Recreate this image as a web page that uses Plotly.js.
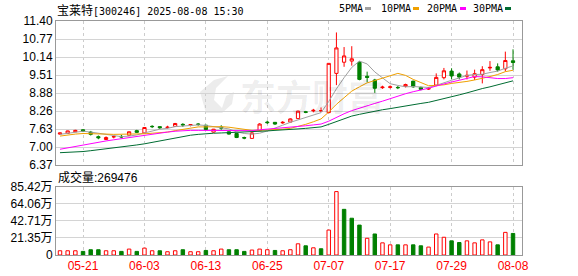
<!DOCTYPE html>
<html><head><meta charset="utf-8">
<script src="https://cdn.plot.ly/plotly-3.0.1.min.js"></script>
<style>html,body{margin:0;padding:0;background:#fff}#chart{width:578px;height:276px}</style>
</head><body><div id="chart"></div>
<script>
const dates = ['2025-05-16','2025-05-19','2025-05-20','2025-05-21','2025-05-22','2025-05-23','2025-05-26','2025-05-27','2025-05-28','2025-05-29',
'2025-05-30','2025-06-03','2025-06-04','2025-06-05','2025-06-06','2025-06-09','2025-06-10','2025-06-11','2025-06-12','2025-06-13',
'2025-06-16','2025-06-17','2025-06-18','2025-06-19','2025-06-20','2025-06-23','2025-06-24','2025-06-25','2025-06-26','2025-06-27',
'2025-06-30','2025-07-01','2025-07-02','2025-07-03','2025-07-04','2025-07-07','2025-07-08','2025-07-09','2025-07-10','2025-07-11',
'2025-07-14','2025-07-15','2025-07-16','2025-07-17','2025-07-18','2025-07-21','2025-07-22','2025-07-23','2025-07-24','2025-07-25',
'2025-07-28','2025-07-29','2025-07-30','2025-07-31','2025-08-01','2025-08-04','2025-08-05','2025-08-06','2025-08-07','2025-08-08'];

const open = [7.45,7.47,7.53,7.60,7.52,7.36,7.26,7.35,7.37,7.41,
7.57,7.49,7.72,7.71,7.68,7.72,7.79,7.76,7.80,7.76,
7.52,7.69,7.53,7.47,7.33,7.30,7.57,7.87,7.86,7.84,
7.87,7.99,8.23,8.26,8.26,8.20,9.57,9.96,10.00,9.96,
9.47,9.34,9.07,9.08,9.08,9.12,9.30,9.08,9.02,9.16,
9.42,9.65,9.55,9.47,9.44,9.53,9.76,9.80,9.73,10.01];
const high = [7.50,7.57,7.60,7.62,7.56,7.40,7.37,7.40,7.42,7.54,
7.60,7.69,7.76,7.72,7.74,7.84,7.83,7.80,7.83,7.77,
7.63,7.76,7.54,7.48,7.36,7.52,7.83,7.92,7.87,7.90,
8.00,8.27,8.26,8.33,8.38,9.92,11.00,10.49,10.52,9.99,
9.63,9.38,9.14,9.15,9.13,9.21,9.31,9.11,9.09,9.57,
9.76,9.75,9.60,9.67,9.70,9.82,10.00,9.92,10.33,10.41];
const low = [7.43,7.46,7.52,7.52,7.40,7.27,7.25,7.30,7.31,7.40,
7.49,7.48,7.66,7.63,7.64,7.71,7.70,7.72,7.74,7.59,
7.50,7.60,7.43,7.31,7.27,7.28,7.56,7.80,7.77,7.81,
7.86,7.98,8.18,8.21,8.22,8.18,9.16,9.80,9.84,9.33,
9.26,8.89,9.03,9.04,9.02,9.08,9.07,8.98,8.99,9.12,
9.36,9.36,9.36,9.36,9.34,9.22,9.66,9.63,9.64,9.70];
const close = [7.49,7.56,7.58,7.54,7.44,7.32,7.33,7.36,7.35,7.53,
7.51,7.68,7.71,7.67,7.69,7.82,7.77,7.78,7.79,7.61,
7.62,7.66,7.45,7.33,7.31,7.49,7.80,7.85,7.80,7.86,
7.98,8.25,8.21,8.28,8.27,9.92,10.46,10.18,10.08,9.36,
9.43,9.05,9.09,9.10,9.07,9.18,9.10,9.01,9.05,9.43,
9.66,9.48,9.44,9.50,9.56,9.70,9.78,9.69,10.02,9.95];
const volume = [53000,53000,53000,45000,66000,66000,53000,53000,45000,74000,
45000,86000,53000,53000,41000,53000,66000,41000,41000,57000,
53000,74000,66000,66000,45000,62000,74000,66000,57000,53000,
66000,140000,115000,90000,78000,312000,793000,571000,460000,374000,
209000,263000,152000,127000,127000,127000,127000,115000,99000,263000,
222000,177000,156000,177000,152000,189000,164000,127000,283000,269476];
const ma5 = [7.44,7.47,7.52,7.55,7.52,7.49,7.44,7.40,7.36,7.38,
7.42,7.49,7.56,7.62,7.65,7.71,7.73,7.75,7.77,7.75,
7.71,7.69,7.63,7.53,7.47,7.45,7.48,7.56,7.65,7.76,
7.86,7.95,8.02,8.12,8.20,8.59,9.03,9.42,9.78,10.00,
9.90,9.62,9.40,9.21,9.15,9.10,9.11,9.09,9.08,9.15,
9.25,9.33,9.41,9.50,9.53,9.54,9.60,9.65,9.75,9.83];
const ma10 = [7.38,7.42,7.45,7.47,7.47,7.46,7.45,7.44,7.44,7.45,
7.45,7.46,7.48,7.49,7.52,7.57,7.61,7.65,7.70,7.70,
7.71,7.71,7.69,7.65,7.61,7.58,7.58,7.59,7.59,7.62,
7.65,7.71,7.79,7.88,7.98,8.22,8.49,8.72,8.95,9.10,
9.24,9.32,9.41,9.49,9.57,9.50,9.36,9.25,9.14,9.15,
9.17,9.22,9.25,9.29,9.34,9.39,9.46,9.53,9.63,9.68];
const ma20 = [6.92,6.97,7.03,7.08,7.13,7.17,7.21,7.25,7.29,7.33,
7.37,7.42,7.46,7.49,7.52,7.55,7.57,7.58,7.58,7.58,
7.58,7.59,7.58,7.57,7.57,7.57,7.60,7.62,7.64,7.66,
7.68,7.71,7.74,7.77,7.80,7.90,8.04,8.16,8.27,8.36,
8.45,8.52,8.60,8.69,8.78,8.86,8.93,8.98,9.05,9.13,
9.21,9.27,9.33,9.39,9.46,9.45,9.41,9.39,9.39,9.42];
const ma30 = [6.80,6.81,6.82,6.84,6.87,6.90,6.93,6.96,6.99,7.03,
7.07,7.11,7.16,7.21,7.27,7.32,7.37,7.41,7.44,7.47,
7.48,7.49,7.50,7.50,7.51,7.52,7.54,7.56,7.58,7.59,
7.61,7.63,7.65,7.68,7.70,7.79,7.89,7.99,8.08,8.14,
8.20,8.25,8.30,8.34,8.39,8.43,8.48,8.52,8.56,8.62,
8.69,8.75,8.82,8.89,8.97,9.04,9.10,9.17,9.24,9.31];

const priceTickLabels = ['6.37','7.00','7.63','8.26','8.88','9.51','10.14','10.77','11.40'];
const volTickLabels = ['0','21.35万','42.71万','64.06万','85.42万'];
const dateTickLabels = ['05-21','06-03','06-13','06-25','07-07','07-17','07-29','08-08'];
const maNames = ['5PMA','10PMA','20PMA','30PMA'];
const maColors = ['#a0a0a0','#f0a000','#ff00ff','#006c32'];
const titleText = '宝莱特[300246] 2025-08-08 15:30';
const volTitle = '成交量:269476';
const watermarkText = '东方财富';

const RED = '#ff0000', GREEN = '#008000';
const L = 56, R = 56, T = 21, B = 21, W = 578 - L - R, H = 276 - T - B;
const px = v => (v - L) / W;
const py = v => 1 - (v - T) / H;

const pMin = 6.37, pMax = 11.40, vMax = 854200;
const priceTicks = priceTickLabels.map((_, k) => pMin + k * (pMax - pMin) / 8);
const volTicks = volTickLabels.map((_, k) => k * vMax / 4);
const dateTicks = dateTickLabels.map(d => '2025-' + d);

const volUp = close.map((c, i) => i === 0 || c >= close[i - 1]);

const traces = [];
traces.push({
  type: 'candlestick', x: dates, open: open, high: high, low: low, close: close,
  xaxis: 'x', yaxis: 'y', whiskerwidth: 0, hoverinfo: 'skip', showlegend: false,
  increasing: {line: {color: RED, width: 1}, fillcolor: '#ffffff'},
  decreasing: {line: {color: GREEN, width: 1}, fillcolor: GREEN}
});
[ma5, ma10, ma20, ma30].forEach((m, k) => traces.push({
  type: 'scatter', mode: 'lines', x: dates, y: m, xaxis: 'x', yaxis: 'y',
  line: {color: maColors[k], width: 1}, hoverinfo: 'skip', showlegend: false, name: maNames[k]
}));
traces.push({
  type: 'bar', x: dates, y: volume, xaxis: 'x', yaxis: 'y2', width: 0.45,
  marker: {color: volUp.map(u => u ? '#ffffff' : GREEN),
           line: {color: volUp.map(u => u ? RED : GREEN), width: 1}},
  hoverinfo: 'skip', showlegend: false
});

const annotations = [];
annotations.push({xref: 'paper', yref: 'paper', x: px(55), y: py(9.5), xanchor: 'left', yanchor: 'middle', showarrow: false,
  text: titleText.replace('宝莱特', '<span style="font-family:Noto Sans CJK SC;font-size:12px">宝莱特</span>'),
  font: {family: 'DejaVu Sans Mono, Noto Sans CJK SC', size: 10, color: '#000'}});
annotations.push({xref: 'paper', yref: 'paper', x: px(56), y: py(177.5), xanchor: 'left', yanchor: 'middle', showarrow: false,
  text: volTitle, font: {family: 'Liberation Sans, Arial, Noto Sans CJK SC', size: 12, color: '#000'}});
annotations.push({xref: 'paper', yref: 'paper', x: px(238), y: py(95), xanchor: 'left', yanchor: 'middle', showarrow: false,
  text: '<b>' + watermarkText + '</b>', font: {family: 'Noto Sans CJK SC', size: 36, color: 'rgba(0,0,0,0.07)'}});
const legX = [338, 380, 426, 472];
const markX = [365, 413, 460, 505];
const shapes = [];
maNames.forEach((n, k) => {
  annotations.push({xref: 'paper', yref: 'paper', x: px(legX[k] - 1), y: py(8.5), xanchor: 'left', yanchor: 'middle', showarrow: false,
    text: n, font: {family: 'DejaVu Sans Mono', size: 10, color: '#000'}});
  shapes.push({type: 'rect', xref: 'paper', yref: 'paper', x0: px(markX[k]), x1: px(markX[k] + 6), y0: py(10), y1: py(7),
    fillcolor: maColors[k], line: {width: 0}});
});
// watermark logo (decoration)
const logoPts = [[206,113],[200,92],[214,80],[228,76],[216,88],[214,100],[222,108],[226,96],[234,92],[232,104],[222,113]];
shapes.push({type: 'path', xref: 'paper', yref: 'paper', layer: 'below',
  path: 'M' + logoPts.map(p => px(p[0]) + ',' + py(p[1])).join('L') + 'Z',
  fillcolor: '#ececec', line: {width: 0}});

const axBase = {showline: true, linecolor: '#999', linewidth: 1, ticks: '', zeroline: false, fixedrange: true};
const layout = {
  width: 578, height: 276, margin: {l: L, r: R, t: T, b: B},
  paper_bgcolor: '#fff', plot_bgcolor: '#fff', showlegend: false, boxgap: 0.4,
  xaxis: Object.assign({}, axBase, {type: 'category', range: [-0.52, 60.17], anchor: 'y2', mirror: 'all',
    tickvals: dateTicks, ticktext: dateTickLabels, showgrid: true, gridcolor: '#cccccc', griddash: '3px,3px', gridwidth: 1,
    tickfont: {family: 'Liberation Sans, Arial', size: 12, color: RED}, rangeslider: {visible: false}}),
  yaxis: Object.assign({}, axBase, {domain: [py(165), 1], range: [pMin, pMax], mirror: true,
    tickvals: priceTicks, ticktext: priceTickLabels, showgrid: true, gridcolor: '#d4d4d4',
    tickfont: {family: 'Liberation Sans, Arial', size: 12, color: '#000'}}),
  yaxis2: Object.assign({}, axBase, {domain: [0, py(186.7)], range: [0, vMax], mirror: true,
    tickvals: volTicks, ticktext: volTickLabels, showgrid: true, gridcolor: '#d4d4d4',
    tickfont: {family: 'Liberation Sans, Arial, Noto Sans CJK SC', size: 12, color: '#000'}}),
  annotations: annotations, shapes: shapes
};
Plotly.newPlot('chart', traces, layout, {displayModeBar: false, staticPlot: true});
</script></body></html>
